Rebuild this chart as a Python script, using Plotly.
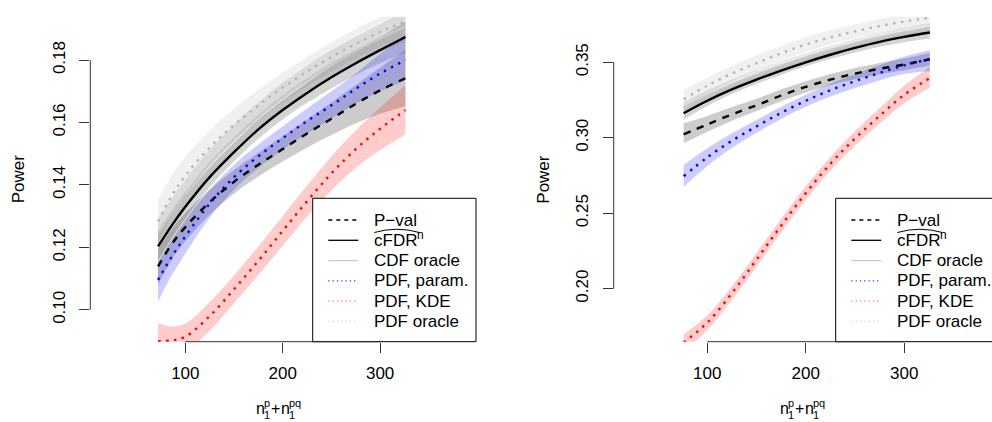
import plotly.graph_objects as go

W, H = 992, 422
FONT = "Liberation Sans, Arial, Helvetica, sans-serif"

# ---------------- data: left panel ----------------
L_X = [72, 86, 100, 125, 150, 175, 200, 225, 250, 275, 300, 326]

L_PVAL = [0.1139, 0.1210, 0.1265, 0.1345, 0.1410, 0.1465, 0.1515, 0.1565, 0.1612, 0.1660, 0.1703, 0.1742]
L_PVAL_LO = [0.1080, 0.1160, 0.1220, 0.1305, 0.1372, 0.1427, 0.1475, 0.1520, 0.1560, 0.1598, 0.1628, 0.1652]
L_PVAL_HI = [0.1195, 0.1258, 0.1310, 0.1385, 0.1448, 0.1503, 0.1555, 0.1610, 0.1664, 0.1720, 0.1776, 0.1832]

L_CFDR = [0.1203, 0.1270, 0.1330, 0.1425, 0.1505, 0.1578, 0.1640, 0.1695, 0.1745, 0.1790, 0.1832, 0.1874]
L_CFDR_LO = [0.1158, 0.1230, 0.1294, 0.1393, 0.1475, 0.1548, 0.1610, 0.1663, 0.1710, 0.1752, 0.1790, 0.1825]
L_CFDR_HI = [0.1248, 0.1310, 0.1366, 0.1457, 0.1535, 0.1608, 0.1670, 0.1727, 0.1780, 0.1828, 0.1874, 0.1923]

L_CDF = [0.1246, 0.1312, 0.1372, 0.1468, 0.1548, 0.1620, 0.1683, 0.1737, 0.1787, 0.1830, 0.1870, 0.1908]
L_CDF_LO = [0.1201, 0.1267, 0.1327, 0.1423, 0.1503, 0.1575, 0.1638, 0.1692, 0.1742, 0.1785, 0.1825, 0.1860]
L_CDF_HI = [0.1291, 0.1357, 0.1417, 0.1513, 0.1593, 0.1665, 0.1728, 0.1782, 0.1832, 0.1875, 0.1915, 0.1956]

L_PARAM = [0.1096, 0.1170, 0.1235, 0.1340, 0.1425, 0.1492, 0.1550, 0.1605, 0.1655, 0.1708, 0.1757, 0.1800]
L_PARAM_LO = [0.1027, 0.1110, 0.1180, 0.1295, 0.1385, 0.1455, 0.1513, 0.1565, 0.1612, 0.1660, 0.1700, 0.1735]
L_PARAM_HI = [0.1150, 0.1222, 0.1285, 0.1385, 0.1465, 0.1530, 0.1588, 0.1645, 0.1700, 0.1757, 0.1820, 0.1880]

L_KDE = [0.0900, 0.0902, 0.0914, 0.0980, 0.1066, 0.1157, 0.1253, 0.1348, 0.1437, 0.1515, 0.1580, 0.1640]
L_KDE_LO = [0.0850, 0.0854, 0.0866, 0.0932, 0.1021, 0.1112, 0.1205, 0.1298, 0.1382, 0.1455, 0.1512, 0.1562]
L_KDE_HI = [0.0957, 0.0947, 0.0956, 0.1025, 0.1111, 0.1203, 0.1301, 0.1398, 0.1492, 0.1575, 0.1648, 0.1720]

L_PDFO = [0.1283, 0.1365, 0.1430, 0.1520, 0.1592, 0.1655, 0.1712, 0.1763, 0.1810, 0.1852, 0.1890, 0.1924]
L_PDFO_LO = [0.1215, 0.1300, 0.1370, 0.1465, 0.1540, 0.1605, 0.1664, 0.1716, 0.1763, 0.1805, 0.1842, 0.1875]
L_PDFO_HI = [0.1352, 0.1430, 0.1490, 0.1575, 0.1644, 0.1705, 0.1760, 0.1810, 0.1857, 0.1900, 0.1938, 0.1975]

L_YTICKS = [0.10, 0.12, 0.14, 0.16, 0.18]
L_YLABELS = ["0.10", "0.12", "0.14", "0.16", "0.18"]

# ---------------- data: right panel ----------------
R_X = [76, 100, 125, 150, 175, 200, 225, 250, 275, 300, 326]

R_PVAL = [0.3023, 0.3088, 0.3155, 0.3215, 0.3280, 0.3337, 0.3385, 0.3425, 0.3457, 0.3485, 0.3520]
R_PVAL_LO = [0.2963, 0.3040, 0.3113, 0.3177, 0.3242, 0.3300, 0.3348, 0.3388, 0.3420, 0.3447, 0.3478]
R_PVAL_HI = [0.3096, 0.3145, 0.3203, 0.3258, 0.3320, 0.3375, 0.3422, 0.3462, 0.3495, 0.3525, 0.3562]

R_CFDR = [0.3162, 0.3245, 0.3320, 0.3385, 0.3445, 0.3500, 0.3550, 0.3595, 0.3635, 0.3668, 0.3697]
R_CFDR_LO = [0.3120, 0.3210, 0.3290, 0.3357, 0.3418, 0.3473, 0.3522, 0.3565, 0.3603, 0.3633, 0.3657]
R_CFDR_HI = [0.3205, 0.3282, 0.3352, 0.3415, 0.3473, 0.3527, 0.3578, 0.3625, 0.3667, 0.3703, 0.3737]

R_CDF = [0.3195, 0.3277, 0.3352, 0.3416, 0.3476, 0.3531, 0.3580, 0.3625, 0.3664, 0.3697, 0.3725]
R_CDF_LO = [0.3155, 0.3240, 0.3318, 0.3384, 0.3445, 0.3500, 0.3550, 0.3595, 0.3634, 0.3666, 0.3692]
R_CDF_HI = [0.3235, 0.3314, 0.3386, 0.3448, 0.3507, 0.3562, 0.3610, 0.3655, 0.3694, 0.3728, 0.3758]

R_PARAM = [0.2745, 0.2870, 0.2980, 0.3075, 0.3165, 0.3245, 0.3315, 0.3375, 0.3430, 0.3480, 0.3522]
R_PARAM_LO = [0.2676, 0.2812, 0.2932, 0.3033, 0.3125, 0.3205, 0.3273, 0.3330, 0.3380, 0.3422, 0.3440]
R_PARAM_HI = [0.2820, 0.2930, 0.3030, 0.3118, 0.3205, 0.3285, 0.3357, 0.3420, 0.3480, 0.3538, 0.3580]

R_KDE = [0.1644, 0.1775, 0.1970, 0.2192, 0.2418, 0.2633, 0.2828, 0.2995, 0.3145, 0.3285, 0.3395]
R_KDE_LO = [0.1584, 0.1725, 0.1925, 0.2147, 0.2373, 0.2588, 0.2783, 0.2947, 0.3093, 0.3229, 0.3333]
R_KDE_HI = [0.1699, 0.1825, 0.2015, 0.2237, 0.2463, 0.2678, 0.2873, 0.3043, 0.3197, 0.3345, 0.3468]

R_PDFO = [0.3255, 0.3345, 0.3425, 0.3495, 0.3560, 0.3618, 0.3665, 0.3705, 0.3740, 0.3770, 0.3795]
R_PDFO_LO = [0.3195, 0.3290, 0.3373, 0.3445, 0.3511, 0.3570, 0.3618, 0.3659, 0.3694, 0.3724, 0.3748]
R_PDFO_HI = [0.3317, 0.3400, 0.3477, 0.3545, 0.3609, 0.3666, 0.3712, 0.3751, 0.3786, 0.3816, 0.3842]

R_YTICKS = [0.20, 0.25, 0.30, 0.35]
R_YLABELS = ["0.20", "0.25", "0.30", "0.35"]

X_TICKS = [100, 200, 300]
X_LABELS = ["100", "200", "300"]

LEGEND_LABELS = ["P\u2212val", "cFDR", "CDF oracle", "PDF, param.", "PDF, KDE", "PDF oracle"]

# ---------------- styles ----------------
BAND_PDFO = "rgba(0,0,0,0.06)"
BAND_CDF = "rgba(0,0,0,0.09)"
BAND_CFDR = "rgba(0,0,0,0.17)"
BAND_PVAL = "rgba(0,0,0,0.2)"
BAND_PARAM = "rgba(0,0,255,0.2)"
BAND_KDE = "rgba(255,0,0,0.2)"
DOTS = "2.4px,5.6px"

fig = go.Figure()


def band(x, lo, hi, color, xa, ya):
    fig.add_trace(go.Scatter(x=x, y=lo, mode="lines", line=dict(width=0, shape="spline"),
                             xaxis=xa, yaxis=ya, hoverinfo="skip", showlegend=False))
    fig.add_trace(go.Scatter(x=x, y=hi, mode="lines", line=dict(width=0, shape="spline"),
                             fill="tonexty", fillcolor=color,
                             xaxis=xa, yaxis=ya, hoverinfo="skip", showlegend=False))


def curve(x, y, color, dash, width, xa, ya):
    fig.add_trace(go.Scatter(x=x, y=y, mode="lines",
                             line=dict(color=color, width=width, dash=dash, shape="spline"),
                             xaxis=xa, yaxis=ya, hoverinfo="skip", showlegend=False))


def panel(X, pdfo, cdf, cfdr, pval, param, kde, xa, ya):
    band(X, pdfo[1], pdfo[2], BAND_PDFO, xa, ya)
    band(X, cdf[1], cdf[2], BAND_CDF, xa, ya)
    band(X, cfdr[1], cfdr[2], BAND_CFDR, xa, ya)
    band(X, pval[1], pval[2], BAND_PVAL, xa, ya)
    band(X, param[1], param[2], BAND_PARAM, xa, ya)
    band(X, kde[1], kde[2], BAND_KDE, xa, ya)
    curve(X, pdfo[0], "#b4b4b4", DOTS, 2.4, xa, ya)
    curve(X, cdf[0], "#c8c8c8", "solid", 2.4, xa, ya)
    curve(X, cfdr[0], "#000000", "solid", 2.4, xa, ya)
    curve(X, pval[0], "#000000", "7px,7px", 2.4, xa, ya)
    curve(X, param[0], "#0000ff", DOTS, 2.4, xa, ya)
    curve(X, kde[0], "#ff0000", DOTS, 2.4, xa, ya)


panel(L_X, (L_PDFO, L_PDFO_LO, L_PDFO_HI), (L_CDF, L_CDF_LO, L_CDF_HI),
      (L_CFDR, L_CFDR_LO, L_CFDR_HI), (L_PVAL, L_PVAL_LO, L_PVAL_HI),
      (L_PARAM, L_PARAM_LO, L_PARAM_HI), (L_KDE, L_KDE_LO, L_KDE_HI), "x", "y")
panel(R_X, (R_PDFO, R_PDFO_LO, R_PDFO_HI), (R_CDF, R_CDF_LO, R_CDF_HI),
      (R_CFDR, R_CFDR_LO, R_CFDR_HI), (R_PVAL, R_PVAL_LO, R_PVAL_HI),
      (R_PARAM, R_PARAM_LO, R_PARAM_HI), (R_KDE, R_KDE_LO, R_KDE_HI), "x2", "y2")


def px(v):
    return v / W


def py(v):
    return 1 - v / H


PLOT_TOP, PLOT_BOT = 16.7, 341.7
FS = 17
axis_common = dict(showgrid=False, zeroline=False, showline=False, ticks="outside",
                   ticklen=10, tickwidth=1, tickcolor="#333333",
                   tickfont=dict(family=FONT, size=FS, color="#000000"))

fig.update_layout(
    width=W, height=H, margin=dict(l=0, r=0, t=0, b=0),
    paper_bgcolor="white", plot_bgcolor="white", showlegend=False,
    font=dict(family=FONT, size=FS, color="#000000"),
    xaxis=dict(domain=[px(90.3), px(476)], range=[2.46, 398.4], anchor="y",
               tickvals=X_TICKS, ticktext=X_LABELS, ticklabelstandoff=6, **axis_common),
    yaxis=dict(domain=[py(PLOT_BOT), py(PLOT_TOP)], range=[0.0898, 0.1939], anchor="x",
               tickvals=L_YTICKS, ticktext=L_YLABELS, tickangle=-90, ticklabelstandoff=8,
               **axis_common),
    xaxis2=dict(domain=[px(613.7), 1.0], range=[5.0, 389.1], anchor="y2",
                tickvals=X_TICKS, ticktext=X_LABELS, ticklabelstandoff=6, **axis_common),
    yaxis2=dict(domain=[py(PLOT_BOT), py(PLOT_TOP)], range=[0.1649, 0.3802], anchor="x2",
                tickvals=R_YTICKS, ticktext=R_YLABELS, tickangle=-90, ticklabelstandoff=8,
                **axis_common),
)

shapes = []
annotations = []
AX_COL = "#333333"

# axis lines (span first to last tick, like base R)
for xa, ya, yt in (("x", "y", L_YTICKS), ("x2", "y2", R_YTICKS)):
    shapes.append(dict(type="line", xref=xa + " domain", yref=ya, x0=0, x1=0,
                       y0=min(yt), y1=max(yt), line=dict(color=AX_COL, width=1)))
    shapes.append(dict(type="line", xref=xa, yref=ya + " domain", x0=min(X_TICKS), x1=max(X_TICKS),
                       y0=0, y1=0, line=dict(color=AX_COL, width=1)))

# axis titles
for cx in (18.3, 542.7):
    annotations.append(dict(text="Power", x=px(cx), y=py(179), xref="paper", yref="paper",
                            textangle=-90, showarrow=False, xanchor="center", yanchor="middle",
                            font=dict(family=FONT, size=FS)))


def xtitle(x0):
    items = [("n", 0, 408.5, 16), ("1", 8.0, 414.8, 11), ("p", 8.0, 402.5, 11),
             ("+", 14.4, 408.5, 16), ("n", 24.3, 408.5, 16), ("1", 32.3, 414.8, 11),
             ("pq", 32.3, 402.5, 11)]
    for t, dx, yy, fs in items:
        annotations.append(dict(text=t, x=px(x0 + dx), y=py(yy), xref="paper", yref="paper",
                                showarrow=False, xanchor="left", yanchor="middle",
                                font=dict(family=FONT, size=fs), xshift=-2))


xtitle(256.2)
xtitle(780.3)

# legends
ROWS = [220.0, 240.3, 260.6, 280.9, 301.2, 321.5]
LEG_STYLE = [("#000000", "4px,4px", 1.3), ("#000000", "solid", 1.3), ("#cccccc", "solid", 1.3),
             ("#3a3aff", "1.3px,3px", 1.3), ("#ff7a7a", "1.3px,3px", 1.3), ("#d8d8d8", "1.3px,3px", 1.3)]


def legend(bx0, bx1):
    shapes.append(dict(type="rect", xref="paper", yref="paper", x0=px(bx0), x1=px(bx1),
                       y0=py(PLOT_BOT), y1=py(198.3), line=dict(color="#000000", width=1),
                       fillcolor="white", layer="above"))
    lx0 = bx0 + 15.6
    lx1 = lx0 + 30
    tx = bx0 + 61.3
    for i, (lab, (col, dash, w)) in enumerate(zip(LEGEND_LABELS, LEG_STYLE)):
        yy = ROWS[i]
        shapes.append(dict(type="line", xref="paper", yref="paper", x0=px(lx0), x1=px(lx1),
                           y0=py(yy), y1=py(yy), line=dict(color=col, width=w, dash=dash),
                           layer="above"))
        ty = yy + (0.6 if i == 1 else 0)
        annotations.append(dict(text=lab, x=px(tx), y=py(ty), xref="paper", yref="paper",
                                showarrow=False, xanchor="left", yanchor="middle",
                                font=dict(family=FONT, size=FS), xshift=-2))
    # superscript n of the hat-cFDR label
    annotations.append(dict(text="n", x=px(tx + 41.8), y=py(234.8), xref="paper", yref="paper",
                            showarrow=False, xanchor="left", yanchor="middle",
                            font=dict(family=FONT, size=12), xshift=-1))
    # wide hat over cFDR
    hx0, hx1 = tx + 0.3, tx + 45.5
    hxc = (hx0 + hx1) / 2
    path = "M {:.5f},{:.5f} Q {:.5f},{:.5f} {:.5f},{:.5f}".format(
        px(hx0), py(232.5), px(hxc), py(226.0), px(hx1), py(232.5))
    shapes.append(dict(type="path", xref="paper", yref="paper", path=path,
                       line=dict(color="#000000", width=1), layer="above"))


legend(312.7, 476.0)
legend(835.7, 1003.7)

fig.update_layout(shapes=shapes, annotations=annotations)
fig.write_html("out.html")
